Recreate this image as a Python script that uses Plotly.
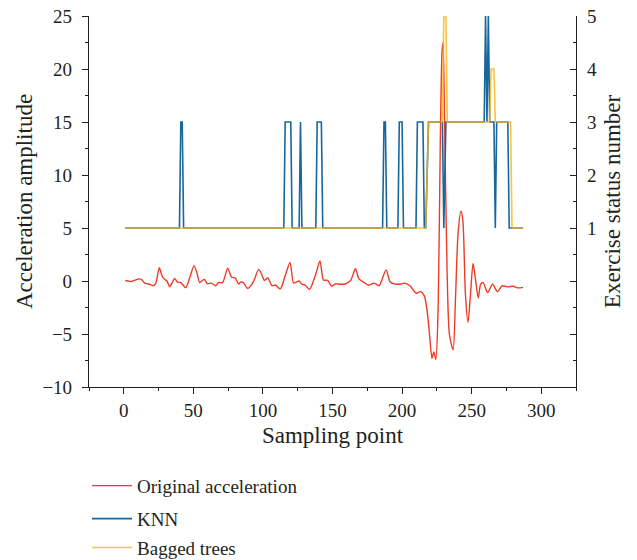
import plotly.graph_objects as go

# Original acceleration (sampling point, amplitude)
acc_x = [1, 3, 5, 8, 11, 13, 15, 18, 21, 23, 25.5, 27.5, 29, 31, 33, 35, 36.5, 38.5, 41, 44.5,
         47.5, 50.5, 52.5, 54.5, 56, 58, 60, 63, 66, 68, 71, 74.7, 77.5, 80, 82.5, 84, 86, 89,
         93, 97, 99.5, 101, 103.5, 106.5, 109, 112.5, 116, 119.5, 122, 124, 126, 128, 130.5,
         133.5, 138, 141, 143.5, 146.5, 149.5, 152, 155, 159, 163, 166.5, 169, 172.5, 176, 180,
         183.5, 188.5, 191.5, 195, 199, 202.5, 206, 210, 213.5, 216, 218, 219.7, 221.5, 222.8,
         224.3, 226, 227.5, 228.8, 229.5, 230.5, 232.3, 234, 236.7, 238.3, 240.2, 242.3, 243.7,
         245.5, 247.4, 249.2, 251, 252.6, 254.7, 256.5, 258.3, 261.5, 265, 268.5, 272, 276, 280,
         283, 287]
acc_y = [0.05, 0.0, -0.05, 0.08, 0.2, 0.12, -0.2, -0.28, -0.45, -0.2, 1.25, 0.5, 0.2, 0.0, -0.55,
         -0.1, 0.25, -0.1, -0.15, -0.63, 0.35, 1.45, 0.8, -0.15, 0.0, 0.15, -0.25, -0.2, -0.45,
         -0.15, -0.15, 1.2, 0.35, 0.3, -0.28, -0.1, -0.15, -0.7, -0.1, 1.1, 0.5, 0.05, 0.28, -0.44,
         -0.38, -0.75, 0.5, 1.75, -0.2, -0.1, 0.0, -0.3, -0.4, -0.8, 0.66, 1.9, 0.1, 0.05, -0.5,
         -0.28, -0.3, -0.28, 0.05, 1.15, 0.2, -0.13, -0.4, -0.2, -0.45, 1.05, -0.1, -0.3, -0.28,
         -0.22, -0.5, -1.15, -1.0, -1.4, -2.8, -5.0, -7.3, -6.7, -7.4, -2.0, 13.5, 21.8, 22.5,
         15.5, 1.3, -5.0, -6.5, -2.0, 4.4, 6.6, 5.7, -1.2, -3.9, -1.2, 1.65, 0.35, -1.6, -0.3,
         -0.15, -1.1, -0.3, -1.0, -0.45, -0.55, -0.5, -0.65, -0.6]

# KNN recognised exercise status
knn_x = [1, 40, 41, 42, 43, 115, 116, 120, 121, 126, 127, 128, 138, 139, 142, 143, 186, 187, 188,
         189, 197, 198, 200, 201, 210, 211, 215, 216, 217, 219, 229, 230, 231.5, 259, 260, 261,
         262, 263, 266, 267, 268, 276, 277, 287]
knn_y = [1, 1, 3, 3, 1, 1, 3, 3, 1, 1, 3, 1, 1, 3, 3, 1, 1, 3, 3,
         1, 1, 3, 3, 1, 1, 3, 3, 1, 1, 3, 3, 1, 3, 3, 5, 3,
         5, 3, 3, 1, 3, 3, 1, 1]

# Bagged trees recognised exercise status
bag_x = [1, 217, 219, 229, 230, 231.5, 232.5, 263, 264, 266, 267, 278, 279, 287]
bag_y = [1, 1, 3, 3, 5, 5, 3, 3, 4, 4, 3, 3, 1, 1]

x_ticks = [0, 50, 100, 150, 200, 250, 300]
y_ticks = [-10, -5, 0, 5, 10, 15, 20, 25]
y2_ticks = [-1, 0, 1, 2, 3, 4, 5]
y2_text = ["", "", "1", "2", "3", "4", "5"]

FONT = "Liberation Serif"
AX = "#231f20"
TXT = "#231f20"

fig = go.Figure()
fig.add_trace(go.Scatter(x=acc_x, y=acc_y, mode="lines", name="Original acceleration",
                         legend="legend",
                         line=dict(color="#ee3b25", width=1.4, shape="spline", smoothing=0.7)))
fig.add_trace(go.Scatter(x=knn_x, y=knn_y, mode="lines", name="KNN", yaxis="y2",
                         legend="legend2",
                         line=dict(color="#17679c", width=1.6)))
fig.add_trace(go.Scatter(x=bag_x, y=bag_y, mode="lines", name="Bagged trees", yaxis="y2",
                         legend="legend3", opacity=0.8,
                         line=dict(color="#fbb417", width=1.6)))

def leg(y):
    return dict(x=-0.004, y=y, xanchor="left", yanchor="top", orientation="v",
                font=dict(size=19, family=FONT, color=TXT), itemwidth=40,
                bgcolor="rgba(0,0,0,0)")

fig.update_layout(
    width=637, height=560,
    margin=dict(l=89, r=61, t=16, b=173, autoexpand=False),
    paper_bgcolor="white", plot_bgcolor="white",
    font=dict(family=FONT, size=19, color=TXT),
    showlegend=True,
    legend=leg(-0.215),
    legend2=leg(-0.304),
    legend3=leg(-0.382),
    xaxis=dict(range=[-25, 325], tickvals=x_ticks, ticks="outside", ticklen=6, tickcolor=AX,
               showline=True, linecolor=AX, linewidth=1.2, showgrid=False, zeroline=False,
               automargin=False,
               minor=dict(ticks="outside", ticklen=3, dtick=25, tick0=0, tickcolor=AX),
               title=dict(text="Sampling point", standoff=6)),
    yaxis=dict(range=[-10, 25], tickvals=y_ticks, ticks="outside", ticklen=6, tickcolor=AX,
               showline=True, linecolor=AX, linewidth=1.2, showgrid=False, zeroline=False,
               automargin=False,
               minor=dict(ticks="outside", ticklen=3, dtick=2.5, tick0=0, tickcolor=AX),
               ticklabelstandoff=6,
               title=dict(text="Acceleration amplitude", standoff=3)),
    yaxis2=dict(range=[-2, 5], overlaying="y", side="right", tickvals=y2_ticks, ticktext=y2_text,
                ticks="inside", ticklen=6, tickcolor=AX, showline=True, linecolor=AX, linewidth=1.2,
                showgrid=False, zeroline=False, automargin=False,
                minor=dict(ticks="inside", ticklen=3, dtick=0.5, tick0=0, tickcolor=AX),
                ticklabelstandoff=6,
                title=dict(text="Exercise status number", standoff=7)),
)

fig.write_html("out.html", config={"displayModeBar": False},
               post_script="document.body.style.margin='0';")
